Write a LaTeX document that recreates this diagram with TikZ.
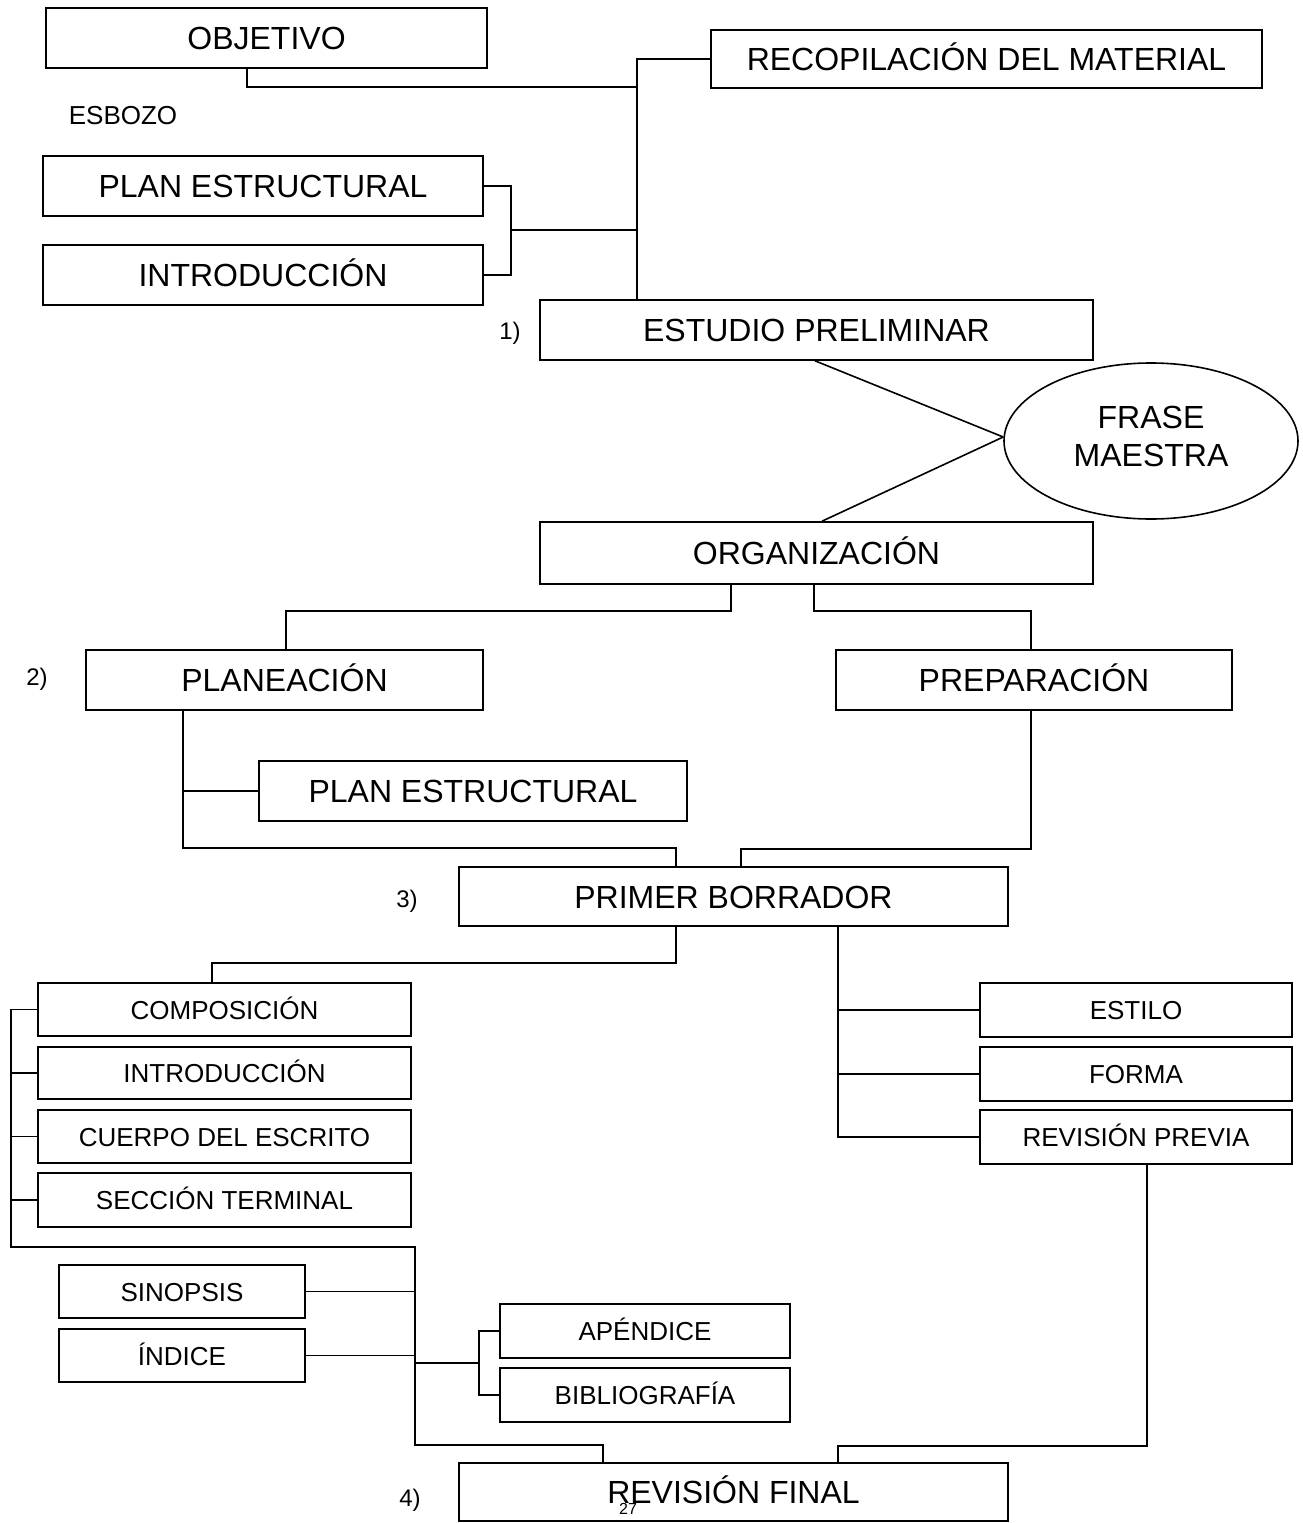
\documentclass[tikz,border=0pt]{standalone}
\usepackage{fontspec}
\setmainfont{Liberation Sans}
\usetikzlibrary{shapes.geometric}

\begin{document}
\begin{tikzpicture}[x=1pt,y=-1pt,
    caja/.style={draw,line width=1.6pt,inner sep=0pt,text height=23pt,text depth=0pt,font=\fontsize{32}{38}\selectfont},
    cajita/.style={caja,text height=19pt,font=\fontsize{26}{30}\selectfont},
    izq/.style={cajita,minimum width=373,minimum height=53},
    der/.style={cajita,minimum width=312,minimum height=54},
    etiq/.style={inner sep=0pt,text height=17pt,text depth=0pt,font=\fontsize{24}{28}\selectfont},
    linea/.style={line width=1.6pt}]
    \useasboundingbox (0,0) rectangle (1302,1523);

    % 1) estudio preliminar
    \node[caja,minimum width=441,minimum height=60] (obj) at (266.5,38) {OBJETIVO};
    \node[caja,minimum width=551,minimum height=58] (rec) at (986.5,59) {RECOPILACIÓN DEL MATERIAL};
    \node[etiq,text height=19pt,font=\fontsize{26}{30}\selectfont] (esb) at (123,115) {ESBOZO};
    \node[caja,minimum width=440,minimum height=60] (pe1) at (263,186) {PLAN ESTRUCTURAL};
    \node[caja,minimum width=440,minimum height=60] (in1) at (263,275) {INTRODUCCIÓN};
    \node[caja,minimum width=553,minimum height=60] (est) at (816.5,330) {ESTUDIO PRELIMINAR};
    \node[etiq] (n1) at (510,331) {1)};

    \coordinate (j1) at (637,87);
    \coordinate (j2) at (511,230);
    \draw[linea] ([xshift=-19.5]obj.south) |- (j1);
    \draw[linea] (rec.west) -| (j1 |- est.north);
    \draw[linea] (pe1.east) -| (j2) |- (in1.east);
    \draw[linea] (j2) -- (j1 |- j2);

    % frase maestra
    \node[ellipse,draw,line width=1.6pt,inner sep=0pt,minimum width=294,minimum height=156,
          font=\fontsize{32}{38}\selectfont] (fm) at (1151,441)
          {\raisebox{1pt}[\height][\depth]{\begin{tabular}{@{}c@{}}FRASE\\MAESTRA\end{tabular}}};
    \node[caja,minimum width=553,minimum height=62] (org) at (816.5,553) {ORGANIZACIÓN};
    \draw[linea] ([xshift=-1.5]est.south) -- ([yshift=4]fm.west);
    \draw[linea] ([yshift=4]fm.west) -- ([xshift=5.5]org.north);

    % 2) planeacion y preparacion
    \node[caja,minimum width=397,minimum height=60] (pla) at (284.5,680) {PLANEACIÓN};
    \node[caja,minimum width=396,minimum height=60] (pre) at (1034,680) {PREPARACIÓN};
    \node[etiq] (n2) at (37,677) {2)};
    \node[caja,minimum width=428,minimum height=60] (pe2) at (473,791) {PLAN ESTRUCTURAL};
    \draw[linea] ([xshift=-85.5]org.south) -- ++(0,26) -| ([xshift=1.5]pla.north);
    \draw[linea] ([xshift=-2.5]org.south) -- ++(0,26) -| ([xshift=-3]pre.north);

    % 3) primer borrador
    \node[caja,minimum width=549,minimum height=59] (pb) at (733.5,896.5) {PRIMER BORRADOR};
    \node[etiq] (n3) at (407,899) {3)};
    \coordinate (j4) at (183,848);
    \draw[linea] ([xshift=-101.5]pla.south) -- (j4) -| ([xshift=-57.5]pb.north);
    \draw[linea] (pe2.west) -- (pe2.west -| j4);
    \draw[linea] ([xshift=-3]pre.south) -- ++(0,138) -| ([xshift=7.5]pb.north);

    \node[izq] (com) at (224.5,1009.5) {COMPOSICIÓN};
    \node[izq,minimum height=52] (in2) at (224.5,1073) {INTRODUCCIÓN};
    \node[izq] (cue) at (224.5,1136.5) {CUERPO DEL ESCRITO};
    \node[izq,minimum height=54] (sec) at (224.5,1200) {SECCIÓN TERMINAL};
    \node[der] (sty) at (1136,1010) {ESTILO};
    \node[der] (frm) at (1136,1074) {FORMA};
    \node[der] (rp) at (1136,1137) {REVISIÓN PREVIA};

    \draw[linea] ([xshift=-57.5]pb.south) -- ++(0,36) -| ([xshift=-12.5]com.north);
    \coordinate (j6) at ([xshift=104.5]pb.south);
    \draw[linea] (j6) |- (rp.west);
    \foreach \n in {sty,frm}
        \draw[linea] (\n.west) -- (\n.west -| j6);

    % 4) revision final
    \node[cajita,minimum width=246,minimum height=53] (sin) at (182,1291.5) {SINOPSIS};
    \node[cajita,minimum width=246,minimum height=53] (ind) at (182,1355.5) {ÍNDICE};
    \node[cajita,minimum width=290,minimum height=54] (ape) at (645,1331) {APÉNDICE};
    \node[cajita,minimum width=290,minimum height=54] (bib) at (645,1395) {BIBLIOGRAFÍA};
    \node[caja,minimum width=549,minimum height=58] (rf) at (733.5,1492) {REVISIÓN FINAL};
    \node[etiq] (n4) at (410,1498) {4)};
    \node[inner sep=0pt,font=\fontsize{16}{16}\selectfont] (pag) at (628,1509) {27};

    \coordinate (j7) at (11,1247);
    \coordinate (j8) at (415,1445);
    \coordinate (j9) at (479,1363);
    \draw[linea] (com.west) -| (j7) -| (j8) -| ([xshift=-130.5]rf.north);
    \foreach \n in {in2,cue,sec}
        \draw[linea] (\n.west) -- (\n.west -| j7);
    \draw[linea] (sin.east) -- (sin.east -| j8);
    \draw[linea] (ind.east) -- (ind.east -| j8);
    \draw[linea] (j8 |- j9) -- (j9);
    \draw[linea] (ape.west) -| (j9) |- (bib.west);
    \draw[linea] ([xshift=11]rp.south) -- ++(0,281) -| ([xshift=104.5]rf.north);
\end{tikzpicture}
\end{document}
